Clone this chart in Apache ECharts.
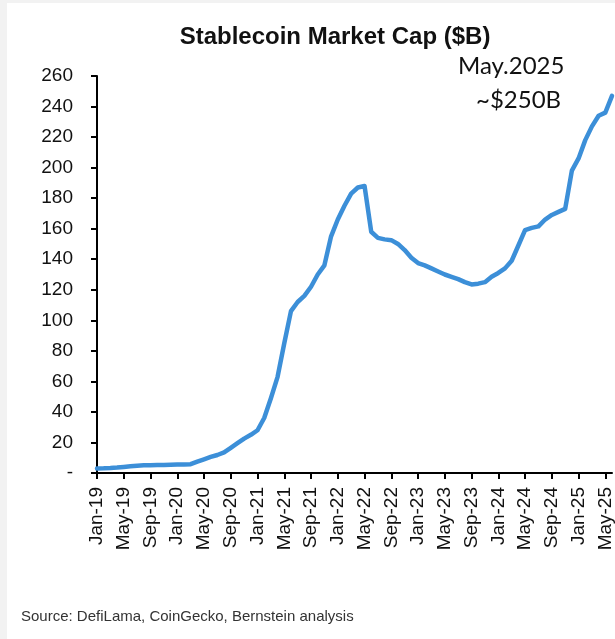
<!DOCTYPE html>
<html>
<head>
<meta charset="utf-8">
<script src="https://cdn.jsdelivr.net/npm/echarts@6/dist/echarts.min.js"></script>
<style>
html,body{margin:0;padding:0;background:#fff;}
#c{width:615px;height:639px;}
</style>
</head>
<body>
<div id="c"></div>
<script>
// Monthly categories Jan-19 .. Jun-25
const monthNames = ['Jan','Feb','Mar','Apr','May','Jun','Jul','Aug','Sep','Oct','Nov','Dec'];
const categories = [];
for (let y = 19; y <= 25; y++) {
  for (let m = 0; m < 12; m++) {
    if (y === 25 && m > 5) break;
    categories.push(monthNames[m] + '-' + y);
  }
}
// Stablecoin market cap ($B), one per month
const marketCap = [
  3.0, 3.1, 3.3, 3.6, 4.0, 4.4, 4.8, 5.0, 5.1, 5.2, 5.3, 5.4,        // 2019
  5.5, 5.6, 5.8, 7.5, 9.0, 10.5, 11.8, 13.5, 16.5, 19.5, 22.5, 25.0, // 2020
  28, 36, 49, 63, 85, 106, 112, 116, 122, 130, 136, 155,            // 2021
  166, 175, 183, 187, 188, 158, 154, 153, 152.5, 150, 146, 141,       // 2022
  137.5, 136, 134, 132, 130, 128.5, 127, 125, 123.5, 124, 125, 128.5, // 2023
  131, 134, 139, 149, 159, 160.5, 161.5, 166, 169, 171, 173, 198,     // 2024
  206, 218, 227, 234, 236, 247                                        // 2025
];
const titleText = 'Stablecoin Market Cap ($B)';
const noteLines = ['May.2025', '~$250B'];
const sourceText = 'Source: DefiLama, CoinGecko, Bernstein analysis';

const chart = echarts.init(document.getElementById('c'), null, {renderer: 'canvas'});
const option = {
  backgroundColor: '#ffffff',
  animation: false,
  title: [
    {
      text: titleText, left: 330, top: 20, textAlign: 'center',
      textStyle: {fontFamily: 'Liberation Sans, Arial, sans-serif', fontWeight: 'bold', fontSize: 24, color: '#111'}
    },
    {
      text: sourceText, left: 16, top: 604,
      textStyle: {fontFamily: 'Liberation Sans, Arial, sans-serif', fontWeight: 'normal', fontSize: 15, color: '#333'}
    }
  ],
  graphic: [
    {type: 'rect', left: 0, top: 0, shape: {width: 7, height: 639}, style: {fill: '#f2f2f2'}, silent: true},
    {type: 'rect', left: 0, top: 0, shape: {width: 615, height: 3}, style: {fill: '#f2f2f2'}, silent: true},
    {type: 'text', left: 458, top: 54, style: {text: noteLines[0], font: '24px Lato, "Open Sans", sans-serif', fill: '#111'}},
    {type: 'text', left: 476, top: 88, style: {text: noteLines[1], font: '24px Lato, "Open Sans", sans-serif', fill: '#111'}}
  ],
  grid: {left: 97, right: 3, top: 76, bottom: 166, containLabel: false},
  xAxis: {
    type: 'category',
    data: categories,
    boundaryGap: false,
    axisLine: {lineStyle: {color: '#000', width: 2}},
    axisTick: {show: true, interval: 3, length: 6, lineStyle: {color: '#000', width: 2}},
    axisLabel: {
      interval: 3, rotate: 90, margin: 14, color: '#111',
      fontFamily: 'Liberation Sans, Arial, sans-serif', fontSize: 19
    },
    splitLine: {show: false}
  },
  yAxis: {
    type: 'value',
    min: 0, max: 260, interval: 20,
    axisLine: {show: true, lineStyle: {color: '#000', width: 2}},
    axisTick: {show: true, length: 6, lineStyle: {color: '#000', width: 2}},
    axisLabel: {
      margin: 24, color: '#111',
      fontFamily: 'Liberation Sans, Arial, sans-serif', fontSize: 19,
      formatter: v => (v === 0 ? '-' : String(v))
    },
    splitLine: {show: false}
  },
  series: [{
    type: 'line',
    data: marketCap,
    showSymbol: false,
    smooth: false,
    lineStyle: {color: '#3c8fd8', width: 4.5, join: 'round', cap: 'round'}
  }]
};
chart.setOption(option);
</script>
</body>
</html>
